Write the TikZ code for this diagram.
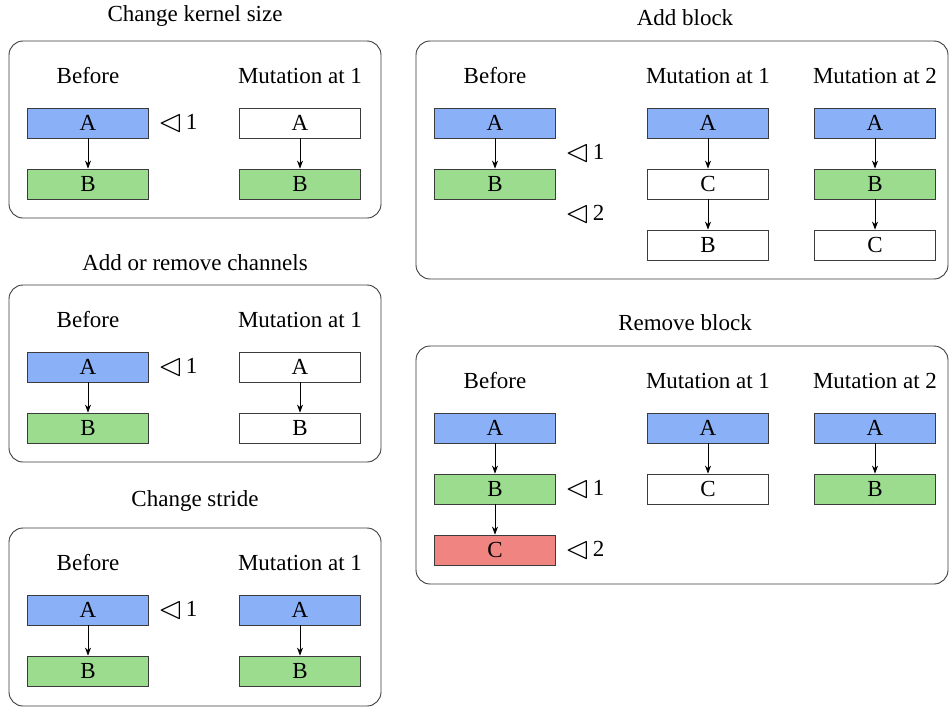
\documentclass[tikz,border=0pt]{standalone}
\usepackage{amssymb}
\usepackage{graphicx}
\usepackage{fontspec}
\setmainfont{Liberation Serif}
\usetikzlibrary{arrows.meta}
\definecolor{blkblue}{RGB}{138,176,248}
\definecolor{blkgreen}{RGB}{155,220,143}
\definecolor{blkred}{RGB}{240,132,128}
\definecolor{edgegray}{RGB}{60,60,60}
\tikzset{
  every node/.style={font=\fontsize{23}{27}\selectfont, inner sep=0pt},
  panel/.style={draw=edgegray, line width=0.9pt, rounded corners=14pt},
  blk/.style={draw=edgegray, line width=0.8pt, minimum width=121pt, minimum height=30pt, fill=white},
  ablk/.style={blk, fill=blkblue},
  bblk/.style={blk, fill=blkgreen},
  cblk/.style={blk, fill=blkred},
  flow/.style={-{Stealth[length=8pt,width=6pt,inset=2.5pt]}, line width=0.75pt},
  poslabel/.style={anchor=west},
}
\newcommand{\mk}[1]{\raisebox{-1.2pt}{\scalebox{1.38}{$\lhd$}}\kern3pt#1}
\begin{document}
\begin{tikzpicture}[x=1pt,y=-1pt]
\useasboundingbox (0,0) rectangle (949,709);

% ---------- Change kernel size ----------
\node (t1) at (195,16) {Change kernel size};
\draw[panel] (9,41) rectangle (381,218);
\node (k-bf) at (88,76) {Before};
\node (k-mu) at (300,76) {Mutation at 1};
\node[ablk] (k-a) at (88,123) {A};
\node[bblk] (k-b) at (88,184) {B};
\node[poslabel] (k-m1) at (158,123) {\mk{1}};
\node[blk] (k-a1) at (300,123) {A};
\node[bblk] (k-b1) at (300,184) {B};
\draw[flow] (k-a) -- (k-b);
\draw[flow] (k-a1) -- (k-b1);

% ---------- Add or remove channels ----------
\node (t2) at (195,263) {Add or remove channels};
\draw[panel] (9,285) rectangle (381,462);
\node (c-bf) at (88,320) {Before};
\node (c-mu) at (300,320) {Mutation at 1};
\node[ablk] (c-a) at (88,367) {A};
\node[bblk] (c-b) at (88,428) {B};
\node[poslabel] (c-m1) at (158,367) {\mk{1}};
\node[blk] (c-a1) at (300,367) {A};
\node[blk] (c-b1) at (300,428) {B};
\draw[flow] (c-a) -- (c-b);
\draw[flow] (c-a1) -- (c-b1);

% ---------- Change stride ----------
\node (t3) at (195,501) {Change stride};
\draw[panel] (9,528) rectangle (381,706);
\node (s-bf) at (88,563) {Before};
\node (s-mu) at (300,563) {Mutation at 1};
\node[ablk] (s-a) at (88,610) {A};
\node[bblk] (s-b) at (88,671) {B};
\node[poslabel] (s-m1) at (158,610) {\mk{1}};
\node[ablk] (s-a1) at (300,610) {A};
\node[bblk] (s-b1) at (300,671) {B};
\draw[flow] (s-a) -- (s-b);
\draw[flow] (s-a1) -- (s-b1);

% ---------- Add block ----------
\node (t4) at (685,18) {Add block};
\draw[panel] (416,41) rectangle (948,279);
\node (ab-bf) at (495,76) {Before};
\node (ab-mu1) at (708,76) {Mutation at 1};
\node (ab-mu2) at (875,76) {Mutation at 2};
\node[ablk] (ab-a) at (495,123) {A};
\node[bblk] (ab-b) at (495,184) {B};
\node[poslabel] (ab-m1) at (565,153) {\mk{1}};
\node[poslabel] (ab-m2) at (565,214) {\mk{2}};
\node[ablk] (ab-a1) at (708,123) {A};
\node[blk] (ab-c1) at (708,184) {C};
\node[blk] (ab-b1) at (708,245) {B};
\node[ablk] (ab-a2) at (875,123) {A};
\node[bblk] (ab-b2) at (875,184) {B};
\node[blk] (ab-c2) at (875,245) {C};
\draw[flow] (ab-a) -- (ab-b);
\draw[flow] (ab-a1) -- (ab-c1);
\draw[flow] (ab-c1) -- (ab-b1);
\draw[flow] (ab-a2) -- (ab-b2);
\draw[flow] (ab-b2) -- (ab-c2);

% ---------- Remove block ----------
\node (t5) at (685,323) {Remove block};
\draw[panel] (416,346) rectangle (948,584);
\node (rb-bf) at (495,381) {Before};
\node (rb-mu1) at (708,381) {Mutation at 1};
\node (rb-mu2) at (875,381) {Mutation at 2};
\node[ablk] (rb-a) at (495,428) {A};
\node[bblk] (rb-b) at (495,489) {B};
\node[cblk] (rb-c) at (495,550) {C};
\node[poslabel] (rb-m1) at (565,489) {\mk{1}};
\node[poslabel] (rb-m2) at (565,550) {\mk{2}};
\node[ablk] (rb-a1) at (708,428) {A};
\node[blk] (rb-c1) at (708,489) {C};
\node[ablk] (rb-a2) at (875,428) {A};
\node[bblk] (rb-b2) at (875,489) {B};
\draw[flow] (rb-a) -- (rb-b);
\draw[flow] (rb-b) -- (rb-c);
\draw[flow] (rb-a1) -- (rb-c1);
\draw[flow] (rb-a2) -- (rb-b2);
\end{tikzpicture}
\end{document}
